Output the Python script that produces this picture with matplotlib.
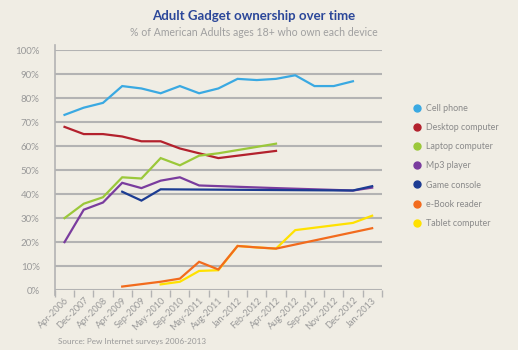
import numpy as np
import matplotlib
matplotlib.use("Agg")
import matplotlib.pyplot as plt
from matplotlib.lines import Line2D

plt.rcParams["font.family"] = ["Lato", "DejaVu Sans"]

nan = np.nan
categories = ["Apr-2006", "Dec-2007", "Apr-2008", "Apr-2009", "Sep-2009", "May-2010",
              "Sep-2010", "May-2011", "Aug-2011", "Jan-2012", "Feb-2012", "Apr-2012",
              "Aug-2012", "Sep-2012", "Nov-2012", "Dec-2012", "Jan-2013"]

cell_phone = [73, 76, 78, 85, 84, 82, 85, 82, 84, 88, 87.5, 88, 89.5, 85, 85, 87, nan]
desktop    = [68, 65, 65, 64, 62, 62, 59, 57, 55, nan, nan, 58, nan, nan, nan, nan, nan]
laptop     = [30, 36, 38.7, 47, 46.5, 55, 52, 56, 57, nan, nan, 61, nan, nan, nan, nan, nan]
mp3        = [20, 33.5, 36.5, 44.7, 42.5, 45.6, 47, 43.6, nan, nan, nan, 42.5, nan, 42, nan, 41.5, 42.7]
console    = [nan, nan, nan, 41, 37.3, 42, nan, nan, nan, nan, nan, nan, nan, nan, nan, 41.5, 43.3]
ebook      = [nan, nan, nan, 1.5, nan, 3.5, 4.8, 11.8, 8.6, 18.4, 17.8, 17.3, nan, nan, nan, nan, 25.8]
tablet     = [nan, nan, nan, nan, nan, 2.4, 3.5, 8, 8.3, 18.4, 17.8, 17.3, 25, nan, nan, 28, 31]

series = [
    ("Cell phone", cell_phone, "#3aa9e2", 3),
    ("Desktop computer", desktop, "#b3212d", 3),
    ("Laptop computer", laptop, "#9bc83a", 3),
    ("Mp3 player", mp3, "#7a3c9e", 3),
    ("Game console", console, "#1c3c92", 4),
    ("e-Book reader", ebook, "#f26b1d", 4),
    ("Tablet computer", tablet, "#ffe100", 2),
]

bg = "#f0ede4"
fig = plt.figure(figsize=(5.18, 3.5), dpi=100, facecolor=bg)
ax = fig.add_axes([0.106, 0.171, 0.631, 0.686], facecolor=bg)

x = np.arange(len(categories))
for name, vals, color, z in series:
    v = np.array(vals, dtype=float)
    m = ~np.isnan(v)
    ax.plot(x[m], v[m], color=color, lw=1.6, zorder=z, solid_joinstyle="miter")

ax.set_xlim(-0.5, len(categories) - 0.5)
ax.set_ylim(0, 100)
ax.set_yticks(np.arange(0, 101, 10))
ax.set_yticklabels([f"{t}%" for t in range(0, 101, 10)])
for t in range(0, 101, 10):
    ax.axhline(t, color="#b3b3b3", lw=1.5, zorder=1)

ax.set_xticks(x)
ax.set_xticklabels(categories, rotation=45, ha="right", rotation_mode="anchor")
ax.set_xticks(np.arange(-0.5, len(categories)), minor=True)
ax.tick_params(axis="x", which="major", length=0, pad=4, labelsize=6.6, labelcolor="#999999")
ax.tick_params(axis="x", which="minor", length=5, width=1, color="#b3b3b3")
ax.tick_params(axis="y", length=0, pad=11, labelsize=7, labelcolor="#999999")

for s in ["top", "right", "bottom"]:
    ax.spines[s].set_visible(False)
ax.spines["left"].set_color("#b3b3b3")
ax.spines["left"].set_linewidth(1.2)
ax.spines["left"].set_bounds(-2, 102)

handles = [Line2D([], [], marker="o", ls="none", color=c, markersize=5) for _, _, c, _ in series]
labels = [n for n, _, _, _ in series]
leg = fig.legend(handles, labels, loc="upper left", bbox_to_anchor=(0.79, 0.714),
                 frameon=False, fontsize=6.4, labelcolor="#8a8a8a", handletextpad=0.5,
                 labelspacing=1.15, handlelength=1.0, borderaxespad=0)

fig.text(0.49, 0.955, "Adult Gadget ownership over time", ha="center", va="center",
         fontsize=9.5, fontweight="bold", color="#2b4799")
fig.text(0.49, 0.907, "% of American Adults ages 18+ who own each device", ha="center",
         va="center", fontsize=7.6, color="#a0a0a0")
fig.text(0.112, 0.024, "Source: Pew Internet surveys 2006-2013", ha="left", va="center",
         fontsize=5.9, color="#999999")

fig.savefig("out.png", dpi=100, facecolor=bg)
